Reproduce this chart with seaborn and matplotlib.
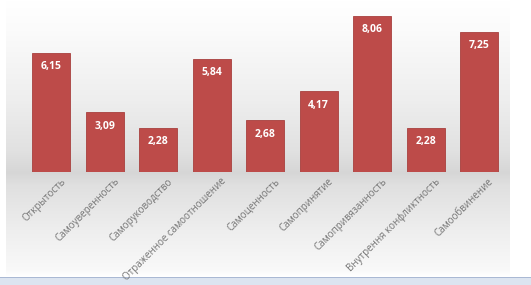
import numpy as np
import pandas as pd
import matplotlib
matplotlib.use('Agg')
import matplotlib.pyplot as plt
import matplotlib.transforms as mtransforms
import seaborn as sns

categories = ['Открытость', 'Самоуверенность', 'Саморуководство', 'Отраженное самоотношение',
              'Самоценность', 'Самопринятие', 'Самопривязанность', 'Внутрення конфликтность',
              'Самообвинение']
values = [6.15, 3.09, 2.28, 5.84, 2.68, 4.17, 8.06, 2.28, 7.25]

bar_color = '#BD4B49'

sns.set_style('white')
plt.rcParams['font.family'] = ['Open Sans', 'DejaVu Sans']

fig = plt.figure(figsize=(5.31, 2.85), dpi=100)

# background gradient (slide-like floor)
bg = fig.add_axes([0, 0, 1, 1])
stops_y = [0, 30, 100, 150, 172, 185, 230, 270, 276]
stops_v = [255, 251, 238, 225, 214, 224, 238, 249, 255]
rows = np.interp(np.arange(285), stops_y, stops_v) / 255.0
img = np.ones((285, 531, 3))
img[:, 6:510, :] = rows[:, None, None]
img[277:, :, :] = np.array([220, 228, 240]) / 255.0
img[277, :, :] = np.array([170, 185, 212]) / 255.0
bg.imshow(img, aspect='auto', extent=[0, 531, 285, 0], interpolation='bilinear')
bg.axis('off')

ax = fig.add_axes([24.5 / 531, 1 - 172 / 285, (506 - 24.5) / 531, (172 - 7.5) / 285])
ax.patch.set_alpha(0)
df = pd.DataFrame({'cat': categories, 'val': values})
sns.barplot(data=df, x='cat', y='val', color=bar_color, width=0.71, ax=ax,
            saturation=1, edgecolor='#A8403E', linewidth=0.6)
ax.set_ylim(0, 8.5)
ax.set_xlim(-0.5, len(categories) - 0.5)

for i, v in enumerate(values):
    ax.text(i, v - 0.72, f'{v:.2f}'.replace('.', ','), ha='center', va='center',
            color='white', fontsize=7.5, fontweight='bold')

ax.set_xticks(range(len(categories)))
ax.set_xticklabels(categories, rotation=45, ha='right', rotation_mode='anchor',
                   fontsize=7.0, color='#757575')
ax.tick_params(axis='x', length=0, pad=3)
shift = mtransforms.ScaledTranslation(9 / 100, 0, fig.dpi_scale_trans)
for lbl in ax.get_xticklabels():
    lbl.set_transform(lbl.get_transform() + shift)
ax.set_yticks([])
ax.set_xlabel('')
ax.set_ylabel('')
sns.despine(ax=ax, left=True, bottom=True)

fig.savefig('out.png', dpi=100)
